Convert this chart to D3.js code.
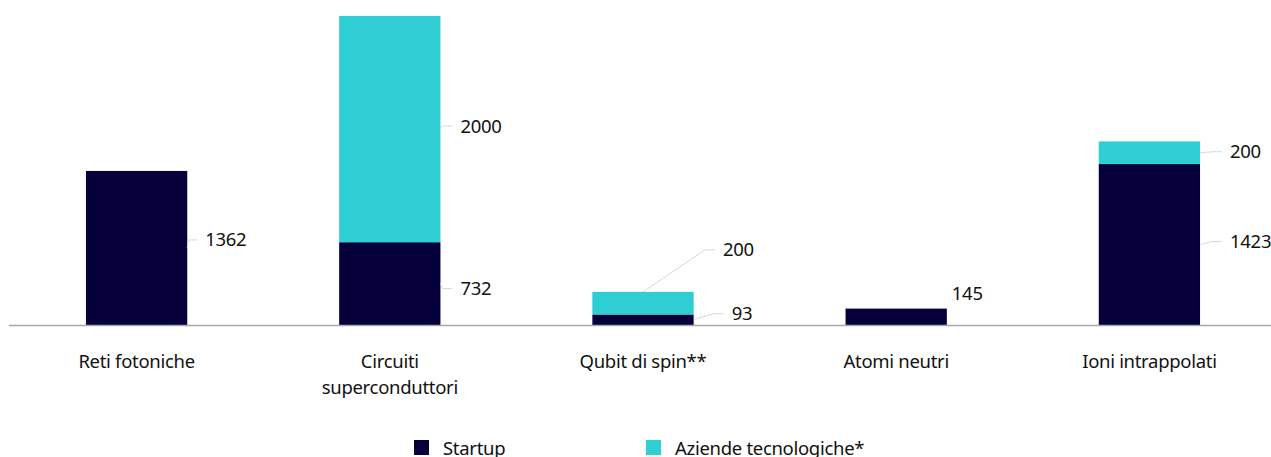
<!DOCTYPE html>
<html>
<head>
<meta charset="utf-8">
<script src="https://cdn.jsdelivr.net/npm/d3@7"></script>
<style>
  body { margin: 0; background: #fff; }
  text { font-family: "Noto Sans", sans-serif; font-size: 18.5px; fill: #111; letter-spacing: -0.3px; }
</style>
</head>
<body>
<svg id="chart"></svg>
<script>
const categories = ["Reti fotoniche", "Circuiti\nsuperconduttori", "Qubit di spin**", "Atomi neutri", "Ioni intrappolati"];
const startup = [1362, 732, 93, 145, 1423];
const aziende = [0, 2000, 200, 0, 200];
const seriesNames = ["Startup", "Aziende tecnologiche*"];
const colors = ["#06003a", "#2fcdd4"];

const width = 1271, height = 457;
const svg = d3.select('#chart').attr('width', width).attr('height', height);

const rows = categories.map((c, i) => ({cat: c, s0: startup[i], s1: aziende[i]}));
const stack = d3.stack().keys(["s0", "s1"])(rows);

const x = d3.scaleBand().domain(categories).range([10, 1276])
  .paddingInner(0.6).paddingOuter(0.3);
const y = d3.scaleLinear().domain([0, d3.max(rows, d => d.s0 + d.s1)]).range([325, 16]);

// bars
svg.append("g").selectAll("g")
  .data(stack)
  .join("g")
    .attr("fill", (d, i) => colors[i])
  .selectAll("rect")
  .data(d => d.filter(p => p[1] > p[0]))
  .join("rect")
    .attr("x", d => x(d.data.cat))
    .attr("y", d => y(d[1]))
    .attr("width", x.bandwidth())
    .attr("height", d => y(d[0]) - y(d[1]));

// baseline
svg.append("line")
  .attr("x1", 9).attr("x2", width)
  .attr("y1", y(0) + 0.5).attr("y2", y(0) + 0.5)
  .attr("stroke", "#a4a8b0").attr("stroke-width", 1.5);

// value labels with leader lines (dx/dy = label offset from anchor)
const labelPos = {
  "0-0": {from: "side", dx: 18, dy: -8},
  "1-0": {from: "side", dx: 20, dy: 5},
  "1-1": {from: "side", dx: 20, dy: -3},
  "2-0": {from: "side", dx: 38, dy: -6},
  "2-1": {from: "top", dx: 80, dy: -42},
  "3-0": {from: "none", dx: 5, dy: -23},
  "4-0": {from: "side", dx: 30, dy: -3},
  "4-1": {from: "side", dx: 30, dy: -1}
};
const labels = [];
stack.forEach((s, si) => s.forEach((p, ci) => {
  if (p[1] <= p[0]) return;
  const pos = labelPos[ci + "-" + si];
  const xr = x(p.data.cat) + x.bandwidth();
  let ax, ay;
  if (pos.from === "top") { ax = x(p.data.cat) + x.bandwidth() / 2; ay = y(p[1]); }
  else { ax = xr; ay = (y(p[0]) + y(p[1])) / 2; }
  labels.push({v: p[1] - p[0], ax, ay, pos});
}));

const lg = svg.append("g");
lg.selectAll("path")
  .data(labels.filter(d => d.pos.from !== "none"))
  .join("path")
    .attr("fill", "none").attr("stroke", "#d4d8de").attr("stroke-width", 1)
    .attr("d", d => {
      const lx = d.ax + d.pos.dx - 8, ly = d.ay + d.pos.dy;
      const kx = lx - Math.min(10, d.pos.dx / 2);
      return `M${d.ax},${d.ay}L${kx},${ly}L${lx},${ly}`;
    });
lg.selectAll("text")
  .data(labels)
  .join("text")
    .attr("x", d => d.ax + d.pos.dx)
    .attr("y", d => d.ay + d.pos.dy)
    .attr("dy", "0.35em")
    .text(d => d.v);

// category labels
svg.append("g").selectAll("text")
  .data(categories)
  .join("text")
    .attr("text-anchor", "middle")
    .attr("x", d => x(d) + x.bandwidth() / 2)
    .attr("y", 368)
  .selectAll("tspan")
  .data(d => d.split("\n"))
  .join("tspan")
    .attr("x", function() { return d3.select(this.parentNode).attr("x"); })
    .attr("dy", (d, i) => i ? 26 : 0)
    .text(d => d);

// legend
const legend = svg.append("g").selectAll("g")
  .data(seriesNames)
  .join("g")
    .attr("transform", (d, i) => `translate(${414 + i * 232},440)`);
legend.append("rect").attr("width", 15).attr("height", 15).attr("fill", (d, i) => colors[i]);
legend.append("text").attr("x", 29).attr("y", 8).attr("dy", "0.38em").text(d => d);
</script>
</body>
</html>
